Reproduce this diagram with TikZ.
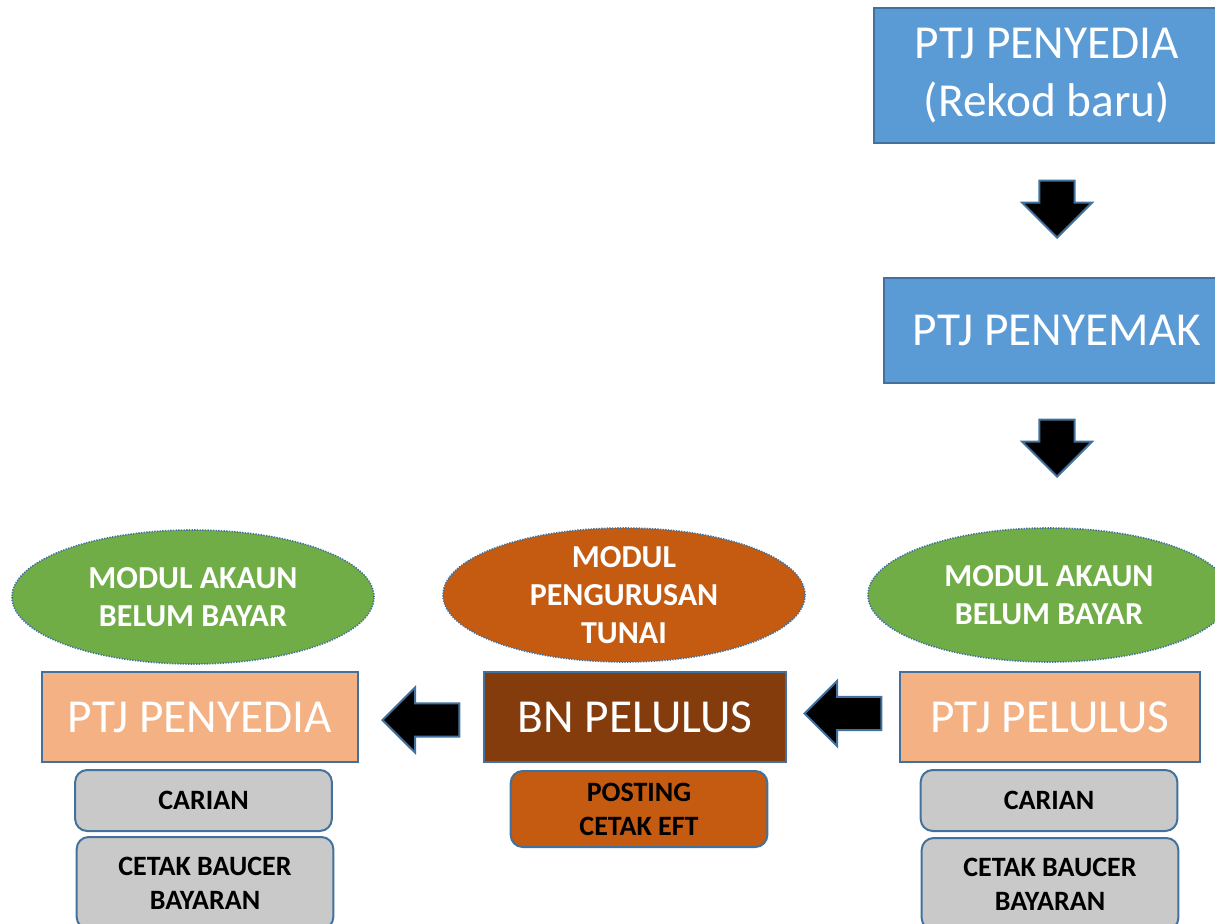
\documentclass[tikz,border=0pt]{standalone}
\usepackage{fontspec}
\setmainfont{Carlito}
\usetikzlibrary{shapes.geometric,shapes.arrows}
\definecolor{garisbiru}{HTML}{41719C}
\definecolor{biru}{HTML}{5B9BD5}
\definecolor{hijau}{HTML}{70AD47}
\definecolor{oren}{HTML}{C55A11}
\definecolor{salmon}{HTML}{F4B183}
\definecolor{perang}{HTML}{843C0C}
\definecolor{kelabu}{HTML}{C9C9C9}

\begin{document}
\begin{tikzpicture}[x=0.75pt,y=-0.75pt]
	\tikzstyle{kotak}=[draw=garisbiru,line width=1.5pt,text=white,align=center,inner sep=0pt,font=\fontsize{35.5}{43.5}\selectfont];
	\tikzstyle{elips}=[ellipse,draw=garisbiru,line width=1.2pt,dash pattern=on 1pt off 1pt,inner sep=0pt,minimum width=271.5pt,minimum height=100.5pt];
	\tikzstyle{tulis}=[align=center,text=white,font=\fontsize{24}{28.5}\selectfont\bfseries];
	\tikzstyle{butang}=[draw=garisbiru,line width=1.5pt,rounded corners=9pt,align=center,inner sep=0pt,minimum width=192.5pt,font=\fontsize{21}{25.5}\selectfont\bfseries];
	\tikzstyle{panah}=[single arrow,draw=garisbiru,fill=black,line width=1.5pt,inner xsep=0pt,text height=0pt,text depth=0pt,anchor=tip];
	\tikzstyle{panahbawah}=[panah,rotate=-90,inner ysep=12.4pt,minimum height=42.75pt,single arrow head extend=13.1pt];
	\tikzstyle{panahkiri}=[panah,rotate=180,inner ysep=11.8pt,minimum height=57.75pt,single arrow head extend=12pt];

	\clip (0,0) rectangle (1215,924);

	% lajur kanan, atas ke bawah
	\node[kotak,fill=biru,minimum width=259.5pt,minimum height=101.25pt] (rekod) at (1047,75.5) {PTJ PENYEDIA\\(Rekod baru)};
	\node[panahbawah] (turun1) at (1057,239) {};
	\node[kotak,fill=biru,minimum width=259.5pt,minimum height=78.75pt] (semak) at (1057,330.5) {PTJ PENYEMAK};
	\node[panahbawah] (turun2) at (1057,478) {};

	% modul
	\node[elips,fill=hijau,label={[tulis]center:MODUL AKAUN\\BELUM BAYAR}] (akaunkiri) at (193,597) {};
	\node[elips,fill=oren,label={[tulis]center:MODUL\\PENGURUSAN\\TUNAI}] (tunai) at (624,595) {};
	\node[elips,fill=hijau,label={[tulis]center:MODUL AKAUN\\BELUM BAYAR}] (akaunkanan) at (1049,595) {};

	% baris pelulus
	\node[kotak,fill=salmon,minimum width=237pt,minimum height=67.5pt] (penyedia) at (200,717) {PTJ PENYEDIA};
	\node[kotak,fill=perang,minimum width=226.5pt,minimum height=67.5pt] (bn) at (635,717) {BN PELULUS};
	\node[kotak,fill=salmon,minimum width=225pt,minimum height=67.5pt] (pelulus) at (1050,717) {PTJ PELULUS};
	\node[panahkiri] (kiri1) at (381,720) {};
	\node[panahkiri] (kiri2) at (803,713.5) {};

	% butang bawah
	\node[butang,fill=kelabu,minimum height=45.75pt] (carian1) at (203.5,800.5) {CARIAN};
	\node[butang,fill=kelabu,minimum height=69pt] (cetak1) at (205,883) {CETAK BAUCER\\BAYARAN};
	\node[butang,fill=oren,minimum height=57pt] (posting) at (639,809) {POSTING\\CETAK EFT};
	\node[butang,fill=kelabu,minimum height=45.75pt] (carian2) at (1049,800.5) {CARIAN};
	\node[butang,fill=kelabu,minimum height=69pt] (cetak2) at (1050,884) {CETAK BAUCER\\BAYARAN};
\end{tikzpicture}
\end{document}
